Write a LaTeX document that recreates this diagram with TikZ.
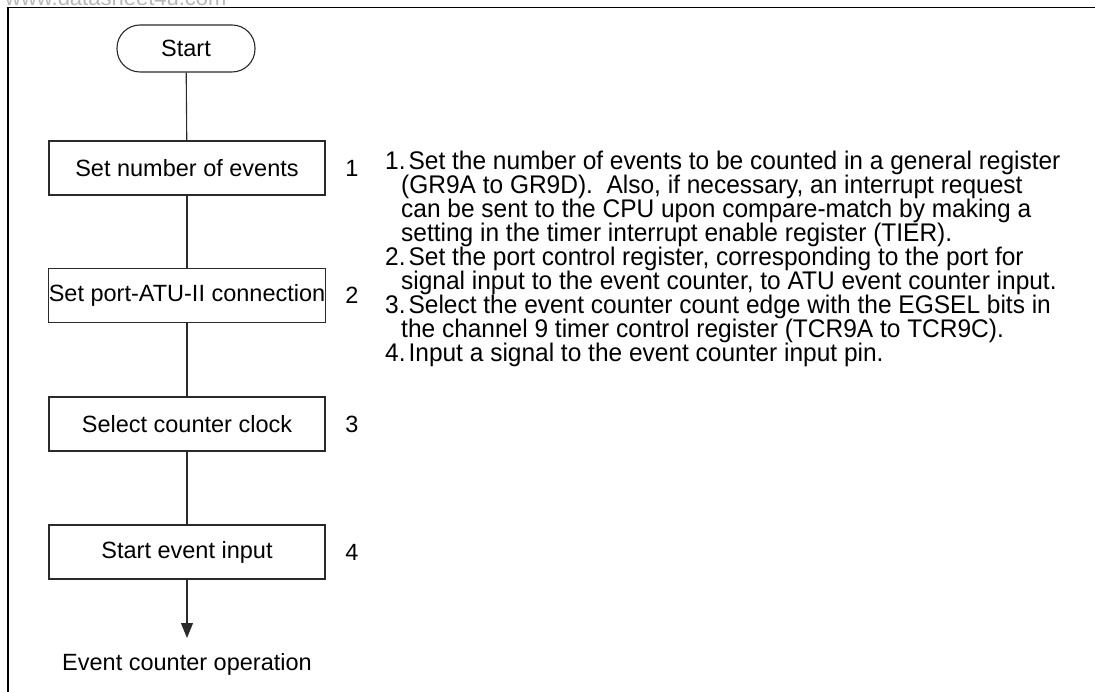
\documentclass[tikz,border=0pt]{standalone}
\usepackage{fontspec}
\setmainfont{Liberation Sans}
\newfontfamily\narrowfont[FakeStretch=0.96]{Liberation Sans}
\usetikzlibrary{arrows.meta}
\definecolor{linec}{HTML}{2A2A2A}
\begin{document}
\begin{tikzpicture}[x=1pt,y=-1pt,
  box/.style={draw=linec, line width=1.1pt, minimum width=276pt, minimum height=54pt, inner sep=0pt, font=\fontsize{23.5}{24}\selectfont},
  term/.style={draw=linec, line width=1.1pt, rounded corners=23pt, minimum width=138pt, minimum height=47pt, inner sep=0pt, font=\fontsize{23.5}{24}\selectfont},
  num/.style={inner sep=0pt, font=\fontsize{23.5}{24}\selectfont},
  plain/.style={inner sep=0pt, font=\fontsize{23.5}{24}\selectfont},
  note/.style={inner sep=0pt, anchor=base west, font=\narrowfont\fontsize{25.5}{24}\selectfont},
  conn/.style={draw=linec, line width=1.1pt}]
\useasboundingbox (0,0) rectangle (1095,692);
% watermark (cut off at top, as in the reference)
\node[anchor=base west, inner sep=0pt, text=black!28, font=\fontsize{22}{22}\selectfont] (wm) at (5,6) {www.datasheet4u.com};
% frame
\draw[line width=1.6pt] (1095,7.5) -- (8,7.5) -- (8,692);
% nodes
\node[term] (start) at (186,48.5) {Start};
\node[box] (b1) at (187,168) {Set number of events};
\node[box] (b2) at (187,295.5) {Set port-ATU-II connection};
\node[box] (b3) at (187,424) {Select counter clock};
\node[box] (b4) at (187,552) {Start event input};
\node[num] (n1) at (352,168) {1};
\node[num] (n2) at (352,295.5) {2};
\node[num] (n3) at (352,424) {3};
\node[num] (n4) at (352,552) {4};
\coordinate (endpt) at (187,638);
\node[plain] (eco) at (187,664) {Event counter operation};
% connectors
\draw[conn] (start) -- (b1);
\draw[conn] (b1) -- (b2);
\draw[conn] (b2) -- (b3);
\draw[conn] (b3) -- (b4);
\draw[conn, -{Triangle[length=15pt, width=12pt]}] (b4) -- (endpt);
% notes
\node[note] (t1) at (385,170) {1.\hspace{3pt}Set the number of events to be counted in a general register};
\node[note] (t2) at (401,194) {(GR9A to GR9D).\ \ Also, if necessary, an interrupt request};
\node[note] (t3) at (401,218) {can be sent to the CPU upon compare-match by making a};
\node[note] (t4) at (401,242) {setting in the timer interrupt enable register (TIER).};
\node[note] (t5) at (385,266) {2.\hspace{3pt}Set the port control register, corresponding to the port for};
\node[note] (t6) at (401,290) {signal input to the event counter, to ATU event counter input.};
\node[note] (t7) at (385,314) {3.\hspace{3pt}Select the event counter count edge with the EGSEL bits in};
\node[note] (t8) at (401,338) {the channel 9 timer control register (TCR9A to TCR9C).};
\node[note] (t9) at (385,362) {4.\hspace{3pt}Input a signal to the event counter input pin.};
\end{tikzpicture}
\end{document}
